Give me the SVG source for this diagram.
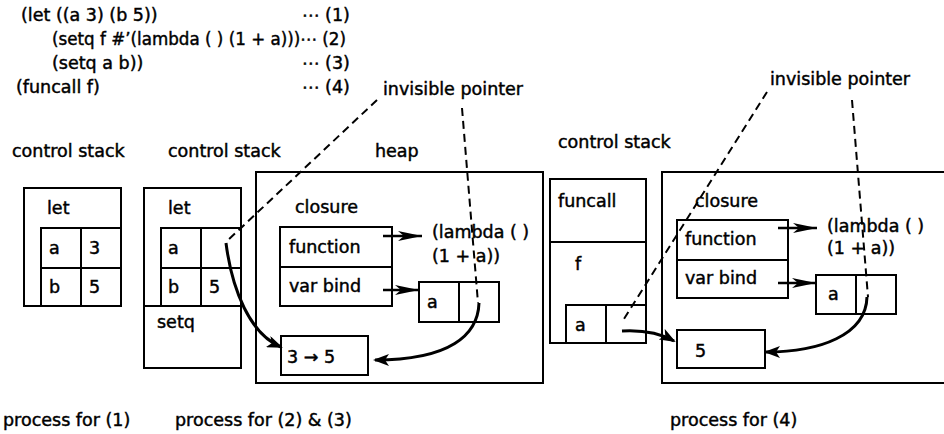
<svg xmlns="http://www.w3.org/2000/svg" width="944" height="434" viewBox="0 0 944 434">
<style>
text{font-family:"DejaVu Sans","Liberation Sans",sans-serif;font-size:17.5px;fill:#000;stroke:#000;stroke-width:0.45}
.box{fill:none;stroke:#000;stroke-width:2}
.dash{fill:none;stroke:#000;stroke-width:2;stroke-dasharray:8 5}
.curve{fill:none;stroke:#000;stroke-width:3}
.ptr{fill:none;stroke:#000;stroke-width:2.6}
</style>
<defs>
<marker id="head" viewBox="0 0 16 12" refX="14" refY="6" markerWidth="16" markerHeight="12" markerUnits="userSpaceOnUse" orient="auto">
<path d="M0,0 L16,6 L0,12 L4,6 z" fill="#000"/>
</marker>
<marker id="head2" viewBox="0 0 24 11" refX="24" refY="5.5" markerWidth="24" markerHeight="11" markerUnits="userSpaceOnUse" orient="auto">
<path d="M0,0.5 L24,5.5 L0,10.5 L6,5.5 z" fill="#000"/>
</marker>
</defs>

<g id="program">
<text x="21" y="21">(let ((a 3) (b 5))</text>
<text x="302" y="21">⋯ (1)</text>
<text x="52" y="45" textLength="294" lengthAdjust="spacingAndGlyphs">(setq f #’(lambda ( ) (1 + a)))⋯ (2)</text>
<text x="52" y="69">(setq a b))</text>
<text x="302" y="69">⋯ (3)</text>
<text x="16" y="93">(funcall f)</text>
<text x="302" y="93">⋯ (4)</text>
</g>

<g id="labels">
<text x="12" y="157">control stack</text>
<text x="168" y="157">control stack</text>
<text x="375" y="157">heap</text>
<text x="383" y="95">invisible pointer</text>
<text x="558" y="148">control stack</text>
<text x="770" y="85">invisible pointer</text>
<text x="3" y="426">process for (1)</text>
<text x="175" y="426">process for (2) &amp; (3)</text>
<text x="670" y="426">process for (4)</text>
</g>

<g id="stack1">
<rect class="box" x="24" y="188" width="97" height="118"/>
<rect class="box" x="41" y="228" width="80" height="78"/>
<line class="box" x1="81" y1="228" x2="81" y2="306"/>
<line class="box" x1="41" y1="268" x2="121" y2="268"/>
<text x="47" y="214">let</text>
<text x="49" y="254">a</text>
<text x="89" y="254">3</text>
<text x="49" y="293">b</text>
<text x="89" y="293">5</text>
</g>

<g id="stack2">
<rect class="box" x="144" y="188" width="97" height="180"/>
<line class="box" x1="144" y1="306" x2="241" y2="306"/>
<rect class="box" x="161" y="228" width="80" height="78"/>
<line class="box" x1="201" y1="228" x2="201" y2="306"/>
<line class="box" x1="161" y1="268" x2="241" y2="268"/>
<text x="168" y="214">let</text>
<text x="168" y="254">a</text>
<text x="168" y="293">b</text>
<text x="209" y="293">5</text>
<text x="157" y="328">setq</text>
</g>

<g id="heap1">
<rect class="box" x="256" y="172" width="287" height="211"/>
<text x="295" y="213">closure</text>
<rect class="box" x="280" y="227" width="112" height="79"/>
<line class="box" x1="280" y1="267" x2="392" y2="267"/>
<text x="289" y="253">function</text>
<text x="289" y="292">var bind</text>
<text x="432" y="238">(lambda ( )</text>
<text x="432" y="262">(1 + a))</text>
<rect class="box" x="419" y="282" width="80" height="40"/>
<line class="box" x1="459" y1="282" x2="459" y2="322"/>
<text x="427" y="308">a</text>
<rect class="box" x="281" y="336" width="87" height="39"/>
<text x="287" y="363">3 → 5</text>
</g>

<g id="stack3">
<rect class="box" x="550" y="179" width="96" height="164"/>
<line class="box" x1="550" y1="242" x2="646" y2="242"/>
<rect class="box" x="566" y="305" width="80" height="38"/>
<line class="box" x1="606" y1="305" x2="606" y2="343"/>
<text x="558" y="207">funcall</text>
<text x="575" y="270">f</text>
<text x="575" y="331">a</text>
</g>

<g id="heap2">
<path class="box" d="M946,172 H662 V383 H946"/>
<text x="695" y="207">closure</text>
<rect class="box" x="677" y="220" width="111" height="78"/>
<line class="box" x1="677" y1="260" x2="788" y2="260"/>
<text x="685" y="245">function</text>
<text x="685" y="284">var bind</text>
<text x="827" y="232">(lambda ( )</text>
<text x="827" y="254">(1 + a))</text>
<rect class="box" x="816" y="275" width="80" height="39"/>
<line class="box" x1="856" y1="275" x2="856" y2="314"/>
<text x="828" y="300">a</text>
<rect class="box" x="677" y="330" width="88" height="38"/>
<text x="695" y="357">5</text>
</g>

<g id="connectors">
<line class="dash" x1="377" y1="100" x2="226" y2="242"/>
<line class="dash" x1="462" y1="108" x2="478" y2="303"/>
<line class="dash" x1="767" y1="92" x2="622" y2="322"/>
<line class="dash" x1="852" y1="100" x2="868" y2="297"/>
<path class="curve" d="M226,243 C232,290 250,334 281,347" marker-end="url(#head)"/>
<path class="curve" d="M479,303 C478,335 450,360 375,360" marker-end="url(#head)"/>
<path class="curve" d="M622,331 C640,330 658,332 674,341" marker-end="url(#head)"/>
<path class="curve" d="M867,297 C866,335 820,352 766,352" marker-end="url(#head)"/>
<line class="ptr" x1="383" y1="236" x2="422" y2="236" marker-end="url(#head2)"/>
<line class="ptr" x1="383" y1="290" x2="419" y2="290" marker-end="url(#head2)"/>
<line class="ptr" x1="778" y1="228" x2="817" y2="228" marker-end="url(#head2)"/>
<line class="ptr" x1="778" y1="283" x2="816" y2="283" marker-end="url(#head2)"/>
</g>
</svg>
